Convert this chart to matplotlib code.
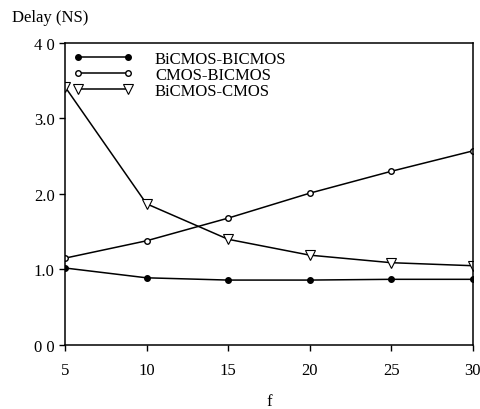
import matplotlib.pyplot as plt

# Delay vs fan-out f
f = [5, 10, 15, 20, 25, 30]
bicmos_bicmos = [1.02, 0.89, 0.86, 0.86, 0.87, 0.87]
cmos_bicmos = [1.15, 1.38, 1.68, 2.01, 2.30, 2.57]
bicmos_cmos = [3.42, 1.87, 1.40, 1.19, 1.09, 1.05]

y_ticks = [0, 1, 2, 3, 4]
y_labels = ["0 0", "1.0", "2.0", "3.0", "4 0"]

plt.rcParams['font.family'] = ['Liberation Serif', 'DejaVu Serif']

fig = plt.figure(figsize=(4.81, 4.10), dpi=100)
ax = fig.add_axes([0.135, 0.156, 0.848, 0.737])

ax.plot(f, bicmos_bicmos, color="black", lw=1.1, marker="o", ms=4,
        mfc="black", label="BiCMOS-BICMOS")
ax.plot(f, cmos_bicmos, color="black", lw=1.1, marker="o", ms=4,
        mfc="white", label="CMOS-BICMOS")
ax.plot(f, bicmos_cmos, color="black", lw=1.1, marker="v", ms=7,
        mfc="white", mew=0.8, label="BiCMOS-CMOS")

ax.set_xlim(5, 30)
ax.set_ylim(0, 4)
ax.set_xticks(f)
ax.set_yticks(y_ticks)
ax.set_yticklabels(y_labels)
ax.tick_params(direction="out", length=4, labelsize=12, width=1)
ax.tick_params(axis="x", pad=8)
for s in ax.spines.values():
    s.set_linewidth(1.1)

ax.legend(loc="upper left", frameon=False, numpoints=2, fontsize=12,
          handlelength=3.6, handletextpad=1.3, labelspacing=0.0,
          bbox_to_anchor=(0.0, 1.0), borderaxespad=0.1)

fig.text(0.025, 0.955, "Delay (NS)", fontsize=12, va="center")
fig.text(0.56, 0.0, "f", fontsize=12, ha="center", va="bottom")

plt.savefig("out.png", dpi=100)
